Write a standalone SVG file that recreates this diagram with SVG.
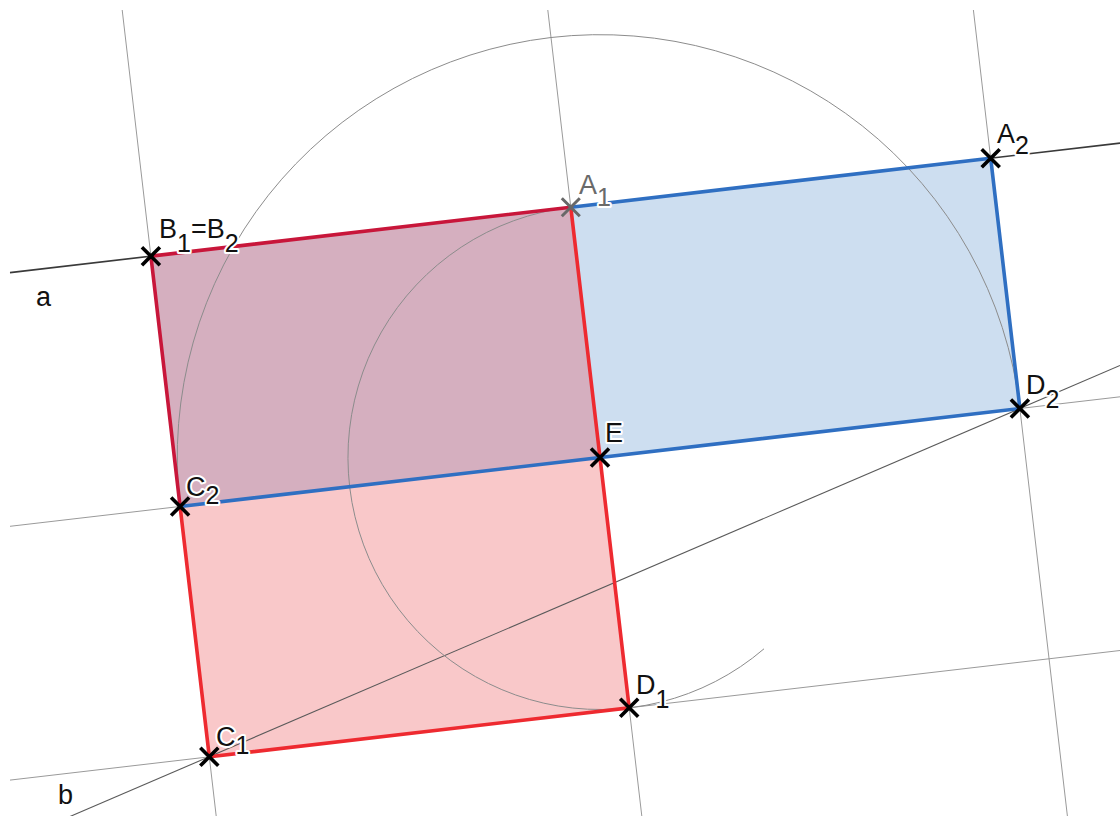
<svg xmlns="http://www.w3.org/2000/svg" xmlns:xlink="http://www.w3.org/1999/xlink" width="1120" height="816" viewBox="0 0 1120 816">
<style>
.thin{stroke:#9a9a9a;stroke-width:1;fill:none}
.arc{stroke:#8c8c8c;stroke-width:1;fill:none}
.la{stroke:#3a3a3a;stroke-width:1.6;fill:none}
.lb{stroke:#5a5a5a;stroke-width:1.1;fill:none}
.red{stroke:#ee2a30;stroke-width:3.6;fill:none;stroke-linecap:round}
.crim{stroke:#c8163a;stroke-width:3.6;fill:none;stroke-linecap:round}
.blue{stroke:#2f6fc2;stroke-width:3.6;fill:none;stroke-linecap:round}
.pt{stroke:#000;stroke-width:3.6;fill:none}
.ptg{stroke:#686868;stroke-width:3;fill:none}
text{font-family:"Liberation Sans",Arial,sans-serif;font-size:27px;fill:#111;stroke:#fff;stroke-width:4;paint-order:stroke;stroke-linejoin:round}
.sub{font-size:25px}
.grey{fill:#6a6a6a}
.plain{stroke:none}
</style>
<defs>
<path id="x" d="M-9-9L9 9M-9 9L9-9"/>
</defs>
<rect width="1120" height="816" fill="#fff"/>
<g id="fills">
<polygon points="150.9,256.2 570.8,207.2 990.7,158.2 1019.9,408.5 600,457.5 180.1,506.5" fill="#cddef0"/>
<polygon points="180.1,506.5 600,457.5 629.2,707.8 209.3,756.8" fill="#f9c8c9"/>
<polygon points="150.9,256.2 570.8,207.2 600,457.5 180.1,506.5" fill="#d5afbf"/>
</g>
<g id="connectors">
<line class="thin" x1="122.2" y1="10" x2="216.2" y2="816"/>
<line class="thin" x1="547.8" y1="10" x2="641.8" y2="816"/>
<line class="thin" x1="973.4" y1="10" x2="1067.4" y2="816"/>
<line class="thin" x1="10" y1="526.3" x2="1120" y2="396.8"/>
<line class="thin" x1="10" y1="780.1" x2="1120" y2="650.5"/>
<line class="la" x1="10" y1="272.6" x2="1120" y2="143.1"/>
<line class="lb" x1="70" y1="816.5" x2="1120" y2="365.5"/>
<path class="arc" d="M180.1 506.5A422.8 422.8 0 0 1 551 37.5A422.8 422.8 0 0 1 1019.9 408.5"/>
<path class="arc" d="M570.8 207.2A252 252 0 1 0 764 648.8"/>
</g>
<g id="edges">
<path class="blue" d="M570.8 207.2L990.7 158.2L1019.9 408.5L180.1 506.5"/>
<path class="crim" d="M570.8 207.2L150.9 256.2L180.1 506.5"/>
<path class="red" d="M180.1 506.5L209.3 756.8L629.2 707.8L570.8 207.2"/>
</g>
<g id="label-a"><text class="plain" x="36" y="306">a</text></g>
<g id="label-b"><text class="plain" x="58" y="804">b</text></g>
<g id="B1B2"><use href="#x" class="pt" x="150.9" y="256.2"/><text x="159" y="237.5">B<tspan class="sub" dy="14.5">1</tspan><tspan dy="-14.5">=B</tspan><tspan class="sub" dy="14.5">2</tspan></text></g>
<g id="A1"><use href="#x" class="ptg" x="570.8" y="207.2"/><text class="grey" x="579" y="194">A<tspan class="sub" dy="12">1</tspan></text></g>
<g id="A2"><use href="#x" class="pt" x="990.7" y="158.2"/><text x="997" y="142.5">A<tspan class="sub" dy="11.5">2</tspan></text></g>
<g id="D2"><use href="#x" class="pt" x="1019.9" y="408.5"/><text x="1026" y="394">D<tspan class="sub" dy="14">2</tspan></text></g>
<g id="E"><use href="#x" class="pt" x="600" y="457.5"/><text x="605" y="442">E</text></g>
<g id="C2"><use href="#x" class="pt" x="180.1" y="506.5"/><text x="186" y="496">C<tspan class="sub" dy="8">2</tspan></text></g>
<g id="C1"><use href="#x" class="pt" x="209.3" y="756.8"/><text x="216" y="746">C<tspan class="sub" dy="8">1</tspan></text></g>
<g id="D1"><use href="#x" class="pt" x="629.2" y="707.8"/><text x="636" y="694">D<tspan class="sub" dy="14">1</tspan></text></g>
</svg>
